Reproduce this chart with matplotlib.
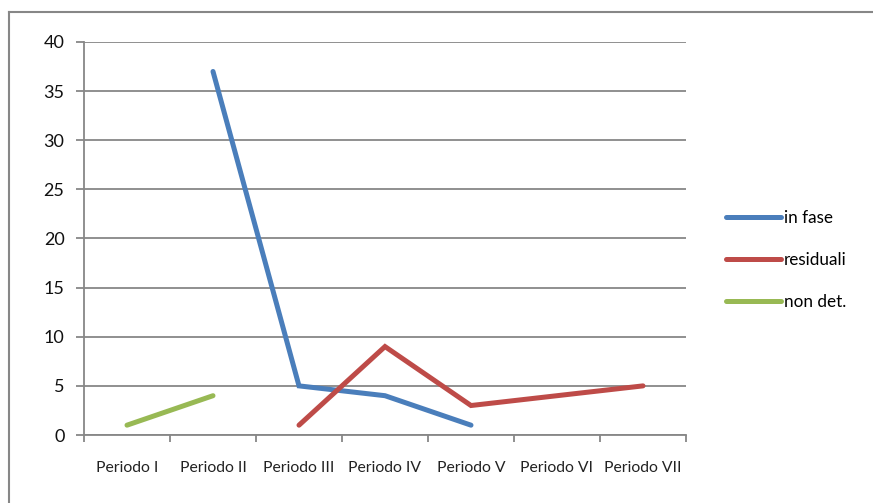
import numpy as np
import matplotlib
matplotlib.use("Agg")
import matplotlib.pyplot as plt
from matplotlib.lines import Line2D

plt.rcParams['font.family'] = ['Lato', 'DejaVu Sans']

periodi = ["Periodo I", "Periodo II", "Periodo III", "Periodo IV",
           "Periodo V", "Periodo VI", "Periodo VII"]
nan = np.nan
in_fase = [nan, 37, 5, 4, 1, nan, nan]
residuali = [nan, nan, 1, 9, 3, 4, 5]
non_det = [1, 4, nan, nan, nan, nan, nan]

W, H = 873, 503
fig = plt.figure(figsize=(W / 100, H / 100), dpi=100)

# outer chart border (only top/left visible in the crop)
grey = "#878787"
fig.add_artist(Line2D([9 / W, 1], [1 - 12 / H, 1 - 12 / H], color=grey, lw=1.5))
fig.add_artist(Line2D([9 / W, 9 / W], [0, 1 - 12 / H], color=grey, lw=1.5))

x0, x1, y0, y1 = 84, 686, 42, 435
ax = fig.add_axes([x0 / W, 1 - y1 / H, (x1 - x0) / W, (y1 - y0) / H])

x = np.arange(len(periodi))
series = [("in fase", in_fase, "#4A7EBB"),
          ("residuali", residuali, "#BE4B48"),
          ("non det.", non_det, "#98B954")]
for name, vals, col in series:
    ax.plot(x, vals, color=col, lw=3.6, solid_capstyle="round",
            solid_joinstyle="miter", label=name, zorder=3)

ax.set_xlim(-0.5, len(periodi) - 0.5)
ax.set_ylim(0, 40)
ax.set_yticks(range(0, 41, 5))
ax.yaxis.grid(True, color=grey, lw=1.3)
ax.set_axisbelow(True)

ax.set_xticks(x)
ax.set_xticklabels(periodi, fontsize=11.3, color="#222222")
ax.tick_params(axis="x", length=0, pad=19)
ax.set_xticks(np.arange(-0.5, len(periodi)), minor=True)
ax.tick_params(axis="x", which="minor", length=5, width=1.3, color=grey)
ax.tick_params(axis="y", length=6, width=1.3, color=grey, labelsize=13,
               labelcolor="#111111", pad=8)

for s in ["top", "right"]:
    ax.spines[s].set_visible(False)
for s in ["left", "bottom"]:
    ax.spines[s].set_color(grey)
    ax.spines[s].set_linewidth(1.3)

leg = ax.legend(loc="center left", bbox_to_anchor=(711 / W, 1 - 260 / H),
                bbox_transform=fig.transFigure, frameon=False, fontsize=12.3,
                handlelength=3.2, handletextpad=0.15, labelspacing=1.5)

fig.savefig("out.png", dpi=100)
